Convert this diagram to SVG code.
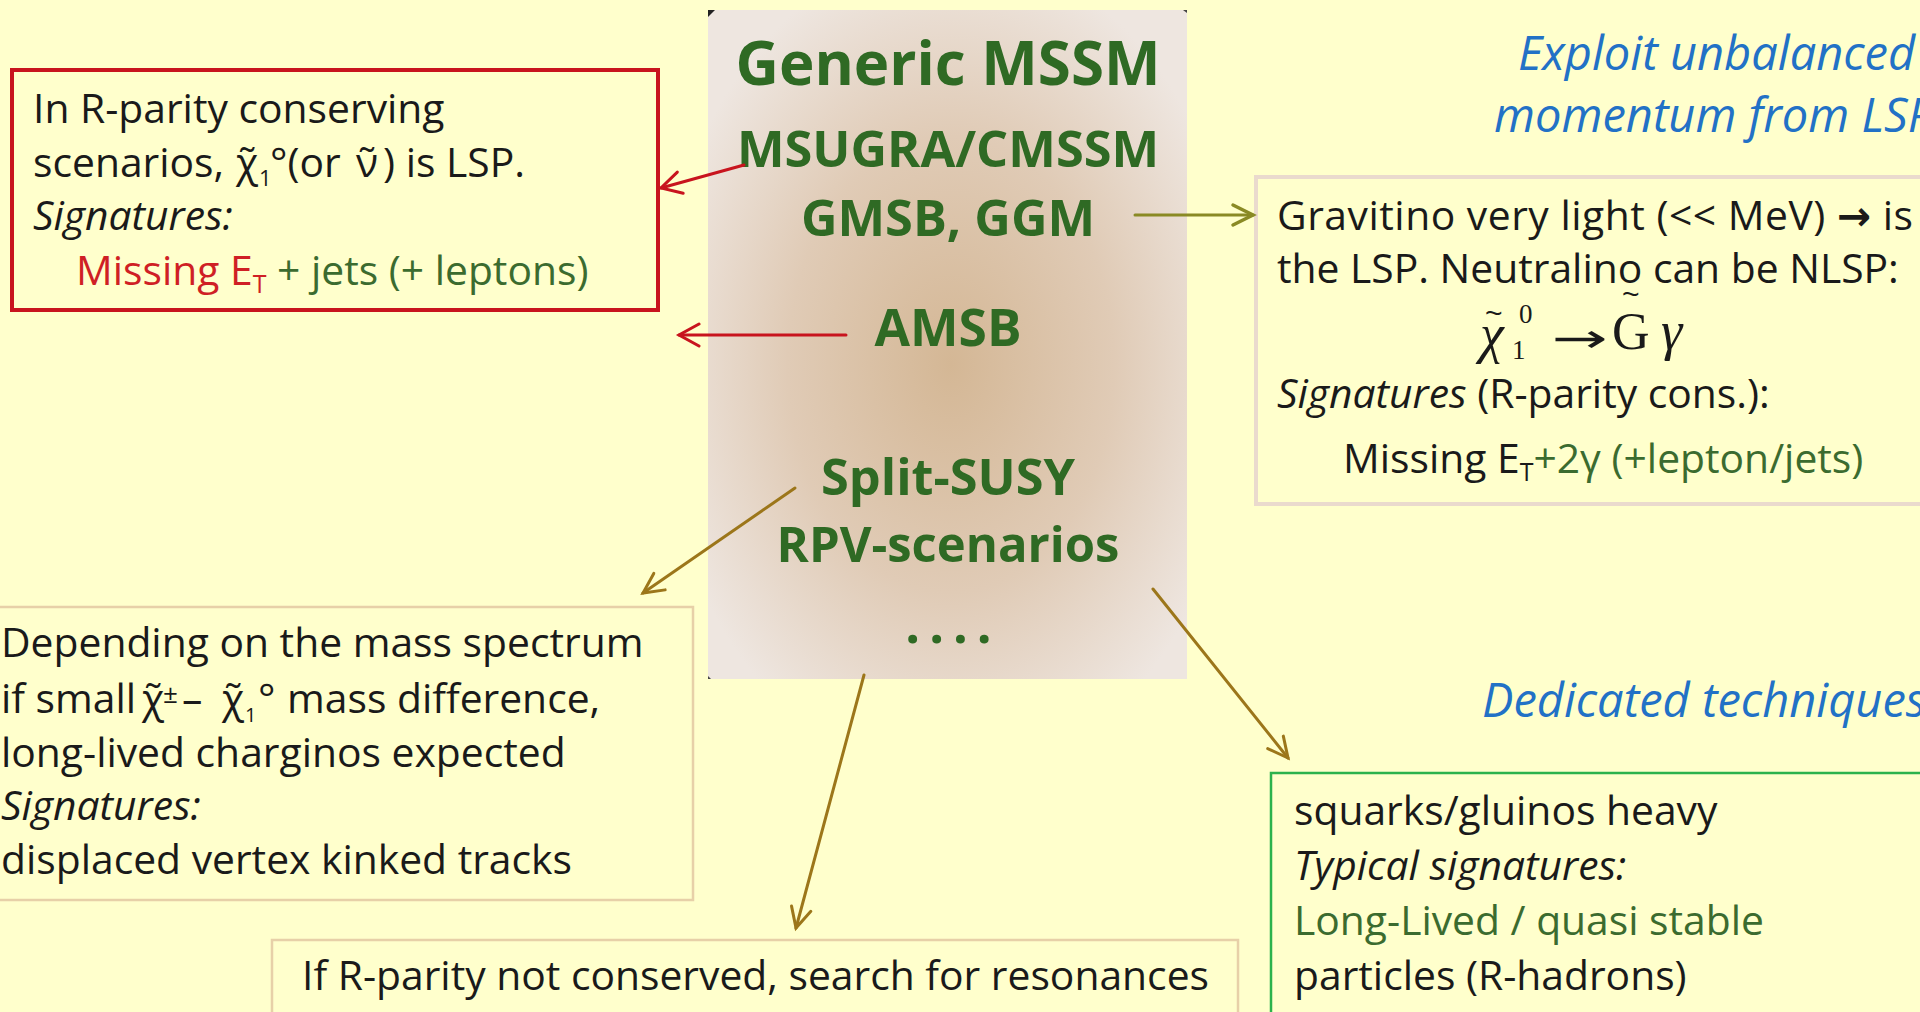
<svg xmlns="http://www.w3.org/2000/svg" width="1920" height="1012" viewBox="0 0 1920 1012">
  <style>
    .body { font-family: "Open Sans", "Liberation Sans", sans-serif; font-size: 40.8px; fill: #1a1a1a; }
    .it { font-style: italic; }
    .grn { fill: #3b6b2f; }
    .red { fill: #cf1f25; }
    .blue { font-family: "Open Sans", "Liberation Sans", sans-serif; font-style: italic; font-size: 47px; fill: #2271c6; }
    .title { font-family: "Open Sans", "Liberation Sans", sans-serif; font-weight: bold; fill: #2f6a24; text-anchor: middle; }
    .math { font-family: "Liberation Serif", "DejaVu Serif", serif; fill: #1a1a1a; }
    .tilde { font-family: "Liberation Sans", sans-serif; fill: #1a1a1a; }
    .sub { font-size: 22px; }
    .conn { fill: none; stroke-width: 3; stroke-linecap: round; }
  </style>
  <defs>
    <radialGradient id="core" cx="0.507" cy="0.53" r="0.62">
      <stop offset="0" stop-color="#d4b795"/>
      <stop offset="0.55" stop-color="#e0cbb6"/>
      <stop offset="1" stop-color="#eee6e0"/>
    </radialGradient>
    <marker id="hRed" markerUnits="userSpaceOnUse" markerWidth="30" markerHeight="30" refX="24" refY="13" orient="auto">
      <path d="M4,2 L24,13 L4,24" fill="none" stroke="#c8141e" stroke-width="3" stroke-linecap="round"/>
    </marker>
    <marker id="hOlive" markerUnits="userSpaceOnUse" markerWidth="30" markerHeight="30" refX="24" refY="13" orient="auto">
      <path d="M4,3 L24,13 L4,23" fill="none" stroke="#8a8a24" stroke-width="3.5" stroke-linecap="round"/>
    </marker>
    <marker id="hGold" markerUnits="userSpaceOnUse" markerWidth="30" markerHeight="30" refX="24" refY="13" orient="auto">
      <path d="M4,3 L24,13 L4,23" fill="none" stroke="#9c761a" stroke-width="3" stroke-linecap="round"/>
    </marker>
  </defs>

  <rect x="0" y="0" width="1920" height="1012" fill="#ffffcc"/>

  <!-- central model list -->
  <g id="models">
    <rect x="708" y="10" width="479" height="669" fill="url(#core)"/>
    <path d="M708,10 L715,10 L708,17 Z" fill="#222"/>
    <path d="M1183,10 L1187,10 L1187,13 Z" fill="#444"/>
    <path d="M708,676 L711,679 L708,679 Z" fill="#444"/>
    <text class="title" x="948" y="85" style="font-size:60px">Generic MSSM</text>
    <text class="title" x="948" y="167" style="font-size:50.5px">MSUGRA/CMSSM</text>
    <text class="title" x="948" y="236" style="font-size:50.5px">GMSB, GGM</text>
    <text class="title" x="948" y="346" style="font-size:51.5px">AMSB</text>
    <text class="title" x="948" y="495" style="font-size:50.5px">Split-SUSY</text>
    <text class="title" x="948" y="562" style="font-size:49px">RPV-scenarios</text>
    <text class="title" x="953" y="643" style="font-size:52px" letter-spacing="9">....</text>
  </g>

  <!-- R-parity conserving scenarios -->
  <g id="rpc">
    <rect x="12" y="70" width="646" height="240" fill="none" stroke="#c8141e" stroke-width="4"/>
    <text class="body" x="33" y="123">In R-parity conserving</text>
    <text class="body" x="33" y="177">scenarios,</text>
    <text class="body" x="236" y="177">χ̃</text>
    <text class="body sub" x="259" y="186">1</text>
    <text class="body" x="270" y="177">°(or</text>
    <text class="body" x="356" y="177">ν̃</text>
    <text class="body" x="383" y="177">) is LSP.</text>
    <text class="body it" x="33" y="230">Signatures:</text>
    <text class="body" x="76" y="285"><tspan class="red">Missing E</tspan><tspan class="red" style="font-size:25px" dy="8">T</tspan><tspan class="grn" dy="-8"> + jets (+ leptons)</tspan></text>
  </g>

  <!-- GMSB / gravitino LSP -->
  <g id="gmsb">
    <rect x="1256" y="177" width="700" height="327" fill="none" stroke="#eadacd" stroke-width="4"/>
    <text class="body" x="1277" y="230" textLength="636" lengthAdjust="spacing">Gravitino very light (&lt;&lt; MeV) <tspan style="font-family:'DejaVu Sans',sans-serif;font-weight:bold">→</tspan> is</text>
    <text class="body" x="1277" y="283">the LSP. Neutralino can be NLSP:</text>
    <text class="math" x="1480" y="352" style="font-size:54px;font-style:italic">χ</text>
    <text class="math" x="1512" y="359" style="font-size:27px">1</text>
    <text class="math" x="1519" y="323" style="font-size:27px">0</text>
    <text class="tilde" x="1485" y="323" style="font-size:30px">~</text>
    <text class="math" x="1552" y="352" style="font-family:'DejaVu Sans',sans-serif;font-size:40px" textLength="56" lengthAdjust="spacingAndGlyphs">→</text>
    <text class="math" x="1612" y="349" style="font-size:52px">G</text>
    <text class="tilde" x="1622" y="304" style="font-size:30px">~</text>
    <text class="math" x="1661" y="349" style="font-size:54px;font-style:italic">γ</text>
    <text class="body" x="1277" y="408"><tspan class="it">Signatures</tspan> (R-parity cons.):</text>
    <text class="body" x="1343" y="473">Missing E<tspan style="font-size:25px" dy="8">T</tspan><tspan class="grn" dy="-8">+2γ (+lepton/jets)</tspan></text>
  </g>

  <!-- long-lived charginos -->
  <g id="amsb-box">
    <rect x="-4" y="607" width="697" height="293" fill="none" stroke="#e7d0a8" stroke-width="2.5"/>
    <text class="body" x="1" y="657">Depending on the mass spectrum</text>
    <text class="body" x="1" y="713">if small</text>
    <text class="body" x="142" y="713">χ̃</text>
    <text class="body" x="163" y="703" style="font-size:26px">±</text>
    <text class="body" x="182" y="713">–</text>
    <text class="body" x="222" y="713">χ̃</text>
    <text class="body" x="245" y="722" style="font-size:20px">1</text>
    <text class="body" x="258" y="713">°</text>
    <text class="body" x="287" y="713">mass difference,</text>
    <text class="body" x="1" y="767">long-lived charginos expected</text>
    <text class="body it" x="1" y="820">Signatures:</text>
    <text class="body" x="1" y="874">displaced vertex kinked tracks</text>
  </g>

  <!-- R-parity violation -->
  <g id="rpv">
    <rect x="272" y="940" width="966" height="90" fill="none" stroke="#e7d0a8" stroke-width="2.5"/>
    <text class="body" x="302" y="990">If R-parity not conserved, search for resonances</text>
  </g>

  <!-- split SUSY -->
  <g id="split">
    <rect x="1271" y="773" width="700" height="260" fill="none" stroke="#2bb24c" stroke-width="2.5"/>
    <text class="body" x="1294" y="825">squarks/gluinos heavy</text>
    <text class="body it" x="1294" y="880">Typical signatures:</text>
    <text class="body grn" x="1294" y="935">Long-Lived / quasi stable</text>
    <text class="body" x="1294" y="990">particles (R-hadrons)</text>
  </g>

  <!-- search strategy notes -->
  <g id="notes">
    <text class="blue" x="1518" y="70">Exploit unbalanced</text>
    <text class="blue" x="1494" y="132">momentum from LSP</text>
    <text class="blue" x="1482" y="717">Dedicated techniques</text>
  </g>

  <!-- connectors -->
  <g id="connectors">
    <line class="conn" x1="744" y1="165" x2="661" y2="188" stroke="#c8141e" marker-end="url(#hRed)"/>
    <line class="conn" x1="846" y1="335" x2="679" y2="335" stroke="#c8141e" marker-end="url(#hRed)"/>
    <line class="conn" x1="1135" y1="215" x2="1253" y2="215" stroke="#8a8a24" stroke-width="3.5" marker-end="url(#hOlive)"/>
    <line class="conn" x1="795" y1="488" x2="643" y2="593" stroke="#9c761a" marker-end="url(#hGold)"/>
    <line class="conn" x1="864" y1="675" x2="796" y2="928" stroke="#9c761a" marker-end="url(#hGold)"/>
    <line class="conn" x1="1153" y1="589" x2="1288" y2="758" stroke="#9c761a" marker-end="url(#hGold)"/>
  </g>
</svg>
